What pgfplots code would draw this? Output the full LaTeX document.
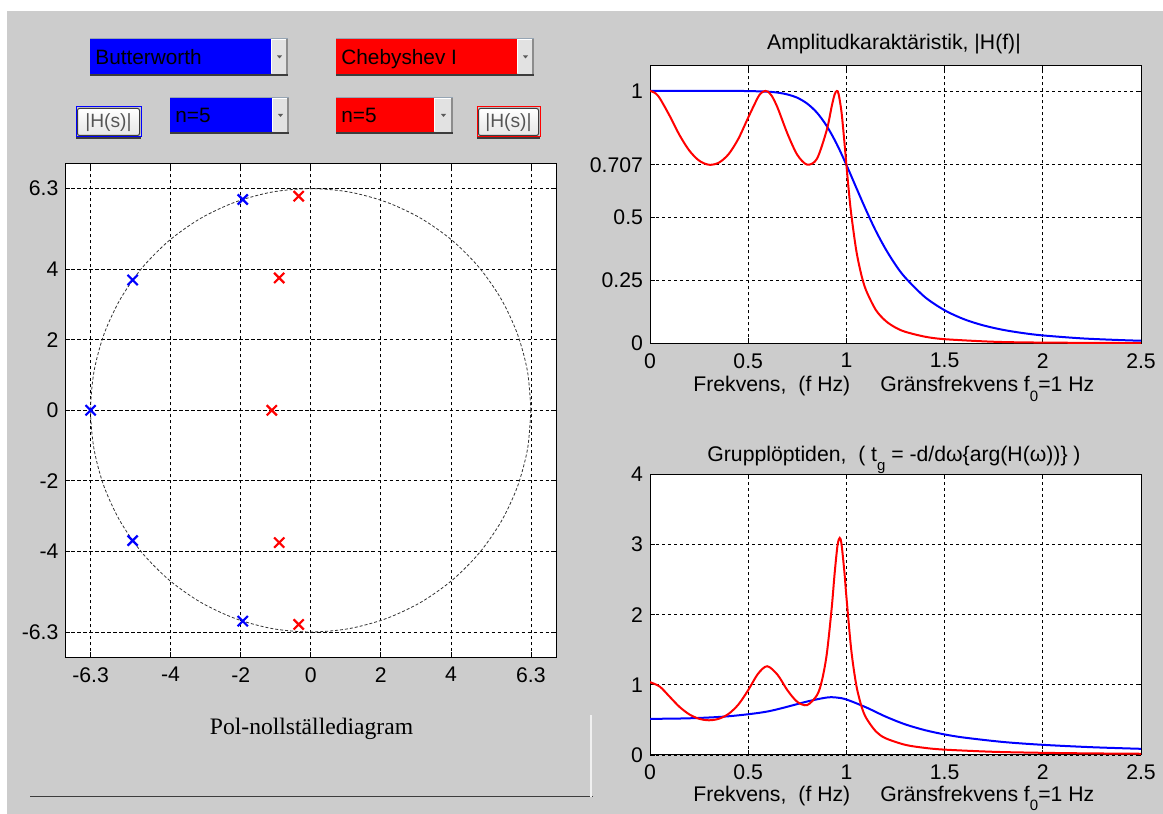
\documentclass[border=0pt]{standalone}
\usepackage{fontspec}
\setmainfont{Liberation Sans}
\newfontfamily\timesfont{Liberation Serif}
\usepackage{pgfplots}
\pgfplotsset{compat=1.18}

\definecolor{bggrey}{RGB}{204,204,204}
\definecolor{mblue}{RGB}{0,0,255}
\definecolor{mred}{RGB}{255,0,0}
\definecolor{arrowface}{RGB}{226,226,226}
\definecolor{arrowedge}{RGB}{140,140,140}
\definecolor{topedge}{RGB}{150,165,180}
\definecolor{darkedge}{RGB}{60,60,60}
\definecolor{btntext}{RGB}{85,85,85}

\newcommand{\lblfont}{\fontsize{10.6}{12}\selectfont}
\newcommand{\wfont}{\fontsize{10.4}{12}\selectfont}
\newcommand{\bfnt}{\fontsize{9.6}{11}\selectfont}

% popup menu: x1,y1,x2,y2,x-arrow,colour,text  (pixel units, y down)
\newcommand{\popup}[7]{%
  \fill[#6] (#1,#2) rectangle (#5,#4);
  \fill[arrowface] (#5,#2) rectangle (#3,#4);
  \draw[white, line width=0.5pt] (#5+0.5,#4-1) -- (#5+0.5,#2+1) -- (#3-2,#2+1);
  \draw[arrowedge, line width=1pt] (#3-1,#2) -- (#3-1,#4);
  \fill[black!65] ({(#5+#3)/2-2.5},{(#2+#4)/2-1}) -- ({(#5+#3)/2+2.5},{(#2+#4)/2-1})
     -- ({(#5+#3)/2},{(#2+#4)/2+2}) -- cycle;
  \draw[topedge, line width=0.5pt] (#1,#2) -- (#3,#2);
  \draw[darkedge, line width=1pt] (#1,#4+1.5) -- (#3,#4+1.5);
  \node[anchor=base west, font=\wfont, inner sep=0pt] at (#1+5,{(#2+#4)/2+8}) {#7};
}
% push button: x1,y1,x2,y2,colour
\newcommand{\pbutton}[5]{%
  \draw[#5, line width=0.5pt] (#1,#2) rectangle (#3,#4);
  \shade[top color=white, bottom color=black!10, draw=darkedge, line width=0.5pt,
     rounded corners=1pt] (#1+1.5,#2+1.5) rectangle (#3-1.5,#4-1.5);
  \draw[darkedge, line width=1pt] (#1,#4+1.5) -- (#3,#4+1.5);
  \node[font=\bfnt, text=btntext, inner sep=0pt] at ({(#1+#3)/2},{(#2+#4)/2+0.5}) {|H(s)|};
}

\pgfplotsset{
  matlab/.style={
    scale only axis,
    anchor=south west,
    axis background/.style={fill=white},
    axis line style={black, line width=0.5pt},
    tick align=inside,
    major tick length=2.5pt,
    tick style={black, line width=0.4pt},
    grid=major,
    major grid style={black, line width=0.4pt, dash pattern=on 1.6pt off 1.4pt},
    tick label style={font=\lblfont},
    /pgf/number format/assume math mode=true,
    xticklabel style={yshift=-1.5pt},
  },
}

\begin{document}
\begin{tikzpicture}
\useasboundingbox (0,0) rectangle (581.5pt,407pt);
\fill[white] (0,0) rectangle (581.5pt,407pt);
\fill[bggrey] (3.5pt,0) rectangle (581.5pt,401.5pt);

% ---------------- pole-zero diagram ----------------
\begin{axis}[matlab,
  at={(32.75pt,78.35pt)}, width=245.25pt, height=247pt,
  xmin=-7, xmax=7, ymin=-7, ymax=7,
  xtick={-6.283,-4,-2,0,2,4,6.283}, xticklabels={-6.3,-4,-2,0,2,4,6.3},
  ytick={-6.283,-4,-2,0,2,4,6.283}, yticklabels={-6.3,-4,-2,0,2,4,6.3},
]
\addplot[black!80, line width=0.4pt, dash pattern=on 1.5pt off 1pt, smooth] coordinates {
  (6.283,0)(6.188,1.091)(5.904,2.149)(5.441,3.142)(4.813,4.039)(4.039,4.813)
  (3.142,5.441)(2.149,5.904)(1.091,6.188)(0,6.283)(-1.091,6.188)(-2.149,5.904)
  (-3.142,5.441)(-4.039,4.813)(-4.813,4.039)(-5.441,3.142)(-5.904,2.149)(-6.188,1.091)
  (-6.283,0)(-6.188,-1.091)(-5.904,-2.149)(-5.441,-3.142)(-4.813,-4.039)(-4.039,-4.813)
  (-3.142,-5.441)(-2.149,-5.904)(-1.091,-6.188)(0,-6.283)(1.091,-6.188)(2.149,-5.904)
  (3.142,-5.441)(4.039,-4.813)(4.813,-4.039)(5.441,-3.142)(5.904,-2.149)(6.188,-1.091)
  (6.283,0)};
\addplot[only marks, mark=x, mark size=3.6pt, mblue, line width=1.1pt] coordinates {
  (-1.942,5.975)(-5.083,3.693)(-6.283,0)(-5.083,-3.693)(-1.942,-5.975)};
\addplot[only marks, mark=x, mark size=3.6pt, mred, line width=1.1pt] coordinates {
  (-0.344,6.069)(-0.901,3.750)(-1.113,0)(-0.901,-3.750)(-0.344,-6.069)};
\end{axis}

% ---------------- amplitude ----------------
\begin{axis}[matlab,
  at={(325pt,235.35pt)}, width=245.5pt, height=138.8pt,
  xmin=0, xmax=2.5, ymin=0, ymax=1.1,
  xtick={0,0.5,1,1.5,2,2.5}, xticklabels={0,0.5,1,1.5,2,2.5},
  ytick={0,0.25,0.5,0.707,1}, yticklabels={0,0.25,0.5,0.707,1},
]
\addplot[mblue, line width=1pt, smooth] coordinates {
  (0,1)(0.2,1)(0.4,0.99995)(0.5,0.9995)(0.6,0.997)(0.65,0.9933)(0.7,0.986)
  (0.75,0.973)(0.8,0.950)(0.85,0.914)(0.9,0.861)(0.95,0.791)(1.0,0.707)
  (1.05,0.617)(1.1,0.528)(1.15,0.445)(1.2,0.373)(1.25,0.311)(1.3,0.260)
  (1.4,0.183)(1.5,0.131)(1.6,0.095)(1.7,0.0703)(1.8,0.0529)(1.9,0.0404)
  (2.0,0.0312)(2.2,0.0194)(2.4,0.0126)(2.5,0.0102)};
\addplot[mred, line width=1pt, smooth] coordinates {
  (0,1)(0.025,0.9923)(0.05,0.9707)(0.1,0.9015)(0.15,0.8255)(0.2,0.7638)
  (0.25,0.7239)(0.3,0.7075)(0.35,0.7155)(0.4,0.7493)(0.45,0.8105)(0.5,0.8944)
  (0.55,0.9750)(0.57,0.9941)(0.588,1.0)(0.6,0.9971)(0.62,0.9805)(0.65,0.9329)
  (0.7,0.8304)(0.75,0.7468)(0.8,0.7081)(0.85,0.7311)(0.9,0.8453)(0.925,0.9382)
  (0.94,0.9860)(0.951,1.0)(0.96,0.9888)(0.975,0.9169)(0.99,0.7962)(1.0,0.7071)
  (1.0125,0.6014)(1.025,0.5093)(1.05,0.3691)(1.075,0.2748)(1.1,0.2103)
  (1.15,0.1319)(1.2,0.0885)(1.25,0.0623)(1.3,0.0455)(1.4,0.0262)(1.5,0.0163)
  (1.75,0.0061)(2.0,0.0028)(2.5,0.0008)};
\end{axis}

% ---------------- group delay ----------------
\begin{axis}[matlab,
  at={(325pt,29.5pt)}, width=245.5pt, height=140.35pt,
  xmin=0, xmax=2.5, ymin=0, ymax=4,
  xtick={0,0.5,1,1.5,2,2.5}, xticklabels={0,0.5,1,1.5,2,2.5},
  ytick={0,1,2,3,4}, yticklabels={0,1,2,3,4},
]
\addplot[mblue, line width=1pt, smooth] coordinates {
  (0,0.515)(0.2,0.523)(0.4,0.552)(0.6,0.621)(0.8,0.762)(0.9,0.819)(0.95,0.819)
  (1.0,0.791)(1.1,0.679)(1.2,0.547)(1.3,0.436)(1.4,0.354)(1.5,0.293)(1.6,0.248)
  (1.8,0.185)(2.0,0.145)(2.25,0.111)(2.5,0.088)};
\addplot[mred, line width=1pt, smooth] coordinates {
  (0,1.0379)(0.05,0.9741)(0.1,0.8308)(0.15,0.6863)(0.2,0.5791)(0.25,0.5160)
  (0.3,0.4948)(0.35,0.5158)(0.4,0.5860)(0.45,0.7191)(0.5,0.9244)(0.55,1.1577)
  (0.597,1.2650)(0.65,1.1413)(0.7,0.9209)(0.75,0.7574)(0.8,0.7113)(0.85,0.8512)
  (0.875,1.0559)(0.9,1.4371)(0.925,2.0891)(0.94,2.5845)(0.955,2.9918)
  (0.966,3.0932)(0.975,3.0077)(0.99,2.6032)(1.0,2.2562)(1.025,1.4905)
  (1.05,1.0012)(1.075,0.7100)(1.1,0.5312)(1.15,0.3362)(1.2,0.2381)(1.3,0.1447)
  (1.4,0.1011)(1.5,0.0765)(1.75,0.0454)(2.0,0.0310)(2.25,0.0228)(2.5,0.0176)};
\end{axis}

% ---------------- GUI parts and texts (pixel units) ----------------
\begin{scope}[shift={(0pt,407pt)}, x=0.5pt, y=-0.5pt]
  \popup{90}{39}{288}{74}{271}{mblue}{Butterworth}
  \popup{336}{39}{534}{74}{517}{mred}{Chebyshev I}
  \popup{170}{98}{289}{132}{272}{mblue}{n=5}
  \popup{336}{98}{453}{132}{434}{mred}{n=5}
  \pbutton{76}{107}{141}{137}{mblue}
  \pbutton{477}{107}{540}{137}{mred}

  \node[anchor=base, font=\lblfont, inner sep=0pt] at (894,49.5)
    {Amplitudkaraktäristik, |H(f)|};
  \node[anchor=base, font=\lblfont, inner sep=0pt] at (894,462)
    {Grupplöptiden,\ \ ( t\raisebox{-4.4pt}{\fontsize{7.5}{8}\selectfont g} = -d/dω\{arg(H(ω))\} )};
  \node[anchor=base west, font=\lblfont, inner sep=0pt] at (693,392)
    {Frekvens,\hspace{6pt}(f Hz)\hspace{15pt}Gränsfrekvens f\raisebox{-5pt}{\fontsize{7.5}{8}\selectfont 0}=1 Hz};
  \node[anchor=base west, font=\lblfont, inner sep=0pt] at (693,802)
    {Frekvens,\hspace{6pt}(f Hz)\hspace{15pt}Gränsfrekvens f\raisebox{-4.5pt}{\fontsize{7.5}{8}\selectfont 0}=1 Hz};
  \node[anchor=base, font=\timesfont\fontsize{11.8}{13}\selectfont, inner sep=0pt] at (311.5,735)
    {Pol-nollställediagram};

  \draw[darkedge, line width=0.5pt] (30,797) -- (593,797);
  \draw[white!94!black, line width=0.6pt] (591,715) -- (591,797);
\end{scope}
\end{tikzpicture}
\end{document}
